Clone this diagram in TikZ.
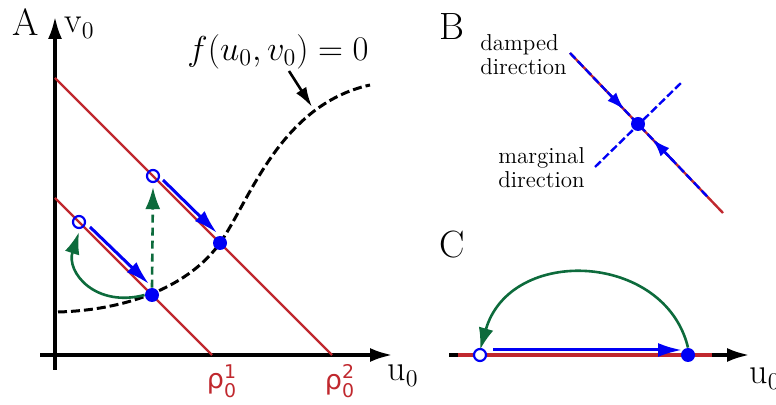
\documentclass[tikz,border=0pt]{standalone}
\usepackage{amsmath}
\usepackage{fontspec}
\usetikzlibrary{positioning,arrows.meta,calc}
\newfontfamily\rhofont{DejaVu Sans}
\definecolor{phasered}{HTML}{C0282E}
\definecolor{phaseblue}{HTML}{0000F5}
\definecolor{phasegreen}{HTML}{0D6B3C}

\begin{document}
\begin{tikzpicture}[
  x=0.5pt, y=-0.5pt,
  axis/.style={line width=2pt, -{Latex[length=11.5pt,width=7pt]}},
  rline/.style={draw=phasered, line width=1.2pt},
  flow/.style={draw=phaseblue, line width=1.5pt, -{Latex[length=12pt,width=7pt]}},
  jump/.style={draw=phasegreen, line width=1.3pt, -{Latex[length=11pt,width=7.5pt]}},
  bdash/.style={draw=phaseblue, line width=1.2pt, dash pattern=on 4pt off 1.6pt},
  btip/.style={draw=phaseblue, line width=1.2pt, -{Latex[length=9pt,width=6pt]}},
  fixed/.style={circle, fill=phaseblue, inner sep=0pt, minimum size=7pt},
  init/.style={circle, draw=phaseblue, line width=1.1pt, inner sep=0pt, minimum size=6pt},
  panel/.style={font=\fontsize{19}{22}\selectfont, inner sep=0pt},
  axlbl/.style={font=\fontsize{18}{20}\selectfont, inner sep=0pt},
  rholbl/.style={text=phasered, font=\fontsize{13.5}{15}\rhofont, inner sep=0pt},
  note/.style={font=\fontsize{11.5}{12}\selectfont, align=left, inner sep=0pt}
]
\useasboundingbox (0,0) rectangle (776,405);

% ---- A: phase plane
\node[panel] (lA) at (26,22) {A};
\draw[axis] (40,355) -- (393,355) coordinate (xend);
\draw[axis] (55,370) -- (55,16) coordinate (yend);
\node[axlbl, anchor=base west] (lv) at (64,33) {v$_0$};
\node[axlbl, anchor=base west] (lu) at (387,381) {u$_0$};

\coordinate (l1a) at (55,198);
\coordinate (l1b) at (212,355);
\coordinate (l2a) at (55,78);
\coordinate (l2b) at (332,355);
\draw[rline] (l1a) -- (l1b);
\draw[rline] (l2a) -- (l2b);
\node[rholbl] (r1) at (222,381) {$\text{ρ}^{\text{1}}_{\text{0}}$};
\node[rholbl] (r2) at (340,381) {$\text{ρ}^{\text{2}}_{\text{0}}$};

% nullcline
\draw[line width=1.5pt, dash pattern=on 4.5pt off 2pt]
  (58,312) .. controls (130,310) and (190,285) .. (220,243)
  .. controls (250,200) and (280,105) .. (370,85);
\node[font=\fontsize{16.5}{18}\selectfont, inner sep=0pt] (fl) at (278,52) {$f(u_0,v_0)=0$};
\coordinate (fpt) at (312,107);
\draw[line width=1.3pt, -{Latex[length=10pt,width=6pt]}] (289,71) -- (fpt);

\node[fixed] (p1) at (152,295) {};
\node[fixed] (p2) at (220,243) {};
\node[init] (q1) at (79,222) {};
\node[init] (q2) at (153,176) {};

\draw[flow] ([shift={(11,5)}]q1.center) -- ([shift={(-3,-11)}]p1.center);
\draw[flow] ([shift={(10,4)}]q2.center) -- ([shift={(-3,-10)}]p2.center);
\draw[jump, dash pattern=on 4pt off 2.5pt] (p1.north) -- ([yshift=-2pt]q2.south);
\draw[jump] (p1.west) .. controls (95,308) and (66,272) .. ([yshift=-1.5pt]q1.south);

% ---- B: linearisation
\node[panel] (lB) at (452,27) {B};
\coordinate (b1) at (570,53);
\coordinate (b2) at (723,213);
\coordinate (m1) at (595,167);
\coordinate (m2) at (682,82);
\draw[rline] (b1) -- (b2);
\node[fixed] (bc) at (638,124) {};
\draw[bdash] (b1) -- (bc.center) -- ($(bc)!0.82!(b2)$);
\draw[bdash] (m1) -- (m2);
\draw[btip] ($(b1)!0.55!(bc)$) -- ($(b1)!0.8!(bc)$);
\draw[btip] ($(bc)!0.42!(b2)$) -- ($(bc)!0.17!(b2)$);
\node[note, anchor=north west] (nd) at (480,34) {damped\\direction};
\node[note, anchor=north west] (nm) at (498,147) {marginal\\direction};

% ---- C: relaxation cycle
\node[panel] (lC) at (452,245) {C};
\draw[axis] (449,355) -- (750,355) coordinate (cend);
\draw[draw=phasered, line width=2pt] (458,355) -- (712,355);
\node[axlbl, anchor=base west] (lu2) at (749,384) {u$_0$};
\node[init, fill=white] (cq) at (480,355) {};
\node[fixed] (cp) at (688,355) {};
\draw[flow] ([shift={(13,-5)}]cq.center) -- ([shift={(-6,-5)}]cp.center);
\draw[jump] (cp.north) .. controls (665,252) and (510,245) .. ([yshift=-1pt]cq.north);
\end{tikzpicture}
\end{document}
